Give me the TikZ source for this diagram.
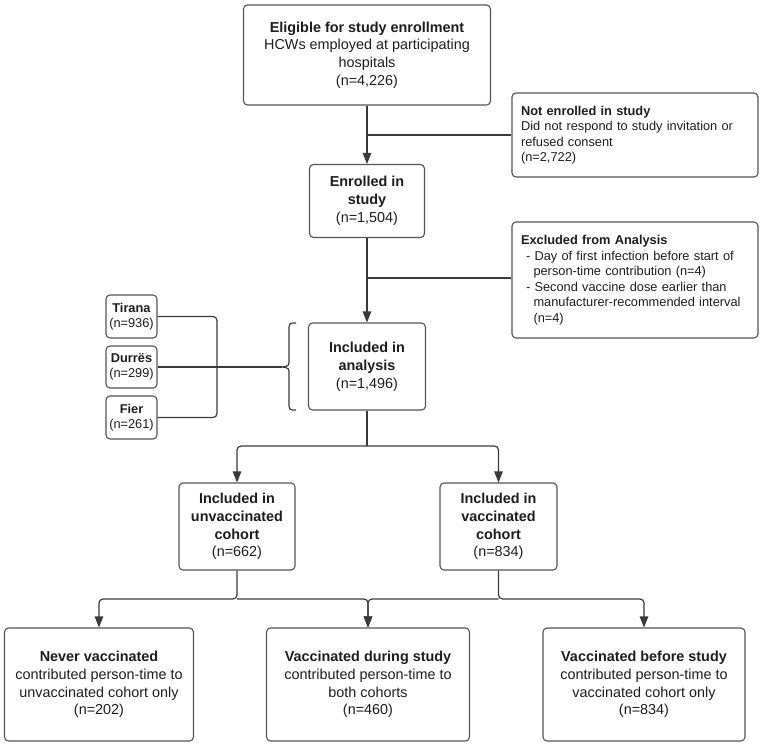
\documentclass[tikz,border=0pt]{standalone}
\usepackage{fontspec}
\setmainfont{Liberation Sans}
\usetikzlibrary{arrows.meta}
\definecolor{boxc}{HTML}{555555}
\definecolor{linec}{HTML}{3A3A3A}
\definecolor{txtc}{HTML}{1E1E1E}
\begin{document}
\begin{tikzpicture}[x=1pt,y=-1pt,
 box/.style={draw=boxc, line width=1.1pt, rounded corners=4pt, fill=white, text=txtc, inner sep=0pt, align=center, font=\fontsize{14.4}{17.8}\selectfont},
 sbox/.style={box, font=\fontsize{12.8}{15.5}\selectfont},
 conn/.style={draw=linec, line width=1.2pt},
 arr/.style={conn, -{Triangle[length=11pt,width=8.5pt]}},
]
\useasboundingbox (0,0) rectangle (762,747);

\node[box, minimum width=247pt, minimum height=100pt] (elig) at (367,55)
 {\textbf{Eligible for study enrollment}\\HCWs employed at participating\\hospitals\\(n=4,226)};
\node[sbox, align=left, text width=228pt, minimum width=246pt, minimum height=84pt] (notenr) at (635,135)
 {\textbf{Not enrolled in study}\\Did not respond to study invitation or\\refused consent\\(n=2,722)};
\node[box, minimum width=115pt, minimum height=73pt] (enr) at (367,201)
 {\textbf{Enrolled in}\\\textbf{study}\\(n=1,504)};
\node[sbox, align=left, text width=228pt, minimum width=246pt, minimum height=116pt] (excl) at (635,280)
 {\textbf{Excluded from Analysis}\\
 \hspace*{5pt}-\ Day of first infection before start of\\
 \hspace*{12.5pt}person-time contribution (n=4)\\
 \hspace*{5pt}-\ Second vaccine dose earlier than\\
 \hspace*{12.5pt}manufacturer-recommended interval\\
 \hspace*{12.5pt}(n=4)};
\node[box, minimum width=117pt, minimum height=87pt] (incl) at (367,366.5)
 {\textbf{Included in}\\\textbf{analysis}\\(n=1,496)};

\node[sbox, minimum width=51pt, minimum height=43pt] (tir) at (131.5,316.5) {\textbf{Tirana}\\(n=936)};
\node[sbox, minimum width=51pt, minimum height=42pt] (dur) at (131.5,367) {\textbf{Durrës}\\(n=299)};
\node[sbox, minimum width=51pt, minimum height=43pt] (fier) at (131.5,417.5) {\textbf{Fier}\\(n=261)};

\node[box, minimum width=116pt, minimum height=87pt] (unvac) at (237,526.5)
 {\textbf{Included in}\\\textbf{unvaccinated}\\\textbf{cohort}\\(n=662)};
\node[box, minimum width=117pt, minimum height=87pt] (vac) at (498.5,526.5)
 {\textbf{Included in}\\\textbf{vaccinated}\\\textbf{cohort}\\(n=834)};

\node[box, minimum width=189pt, minimum height=113pt] (never) at (99,684.5)
 {\textbf{Never vaccinated}\\contributed person-time to\\unvaccinated cohort only\\(n=202)};
\node[box, minimum width=203pt, minimum height=113pt] (during) at (368,684.5)
 {\textbf{Vaccinated during study}\\contributed person-time to\\both cohorts\\(n=460)};
\node[box, minimum width=202pt, minimum height=113pt] (before) at (644,684.5)
 {\textbf{Vaccinated before study}\\contributed person-time to\\vaccinated cohort only\\(n=834)};

% connectors
\coordinate (b1) at (367,135);
\draw[arr] (elig.south) -- (enr.north);
\draw[conn] (b1) -- (b1 -| notenr.west);

\coordinate (b2) at (367,278);
\draw[arr] (enr.south) -- (incl.north);
\draw[conn] (b2) -- (b2 -| excl.west);

\coordinate (jn) at (217,367);
\coordinate (btip) at (282,367);
\draw[conn, rounded corners=4pt] (tir.east) -| (jn) |- (fier.east);
\draw[conn] (dur.east) -- (btip);
\draw[conn] (296,323) .. controls (289,323) .. (289,331) -- (289,359)
  .. controls (289,366) .. (282,367) .. controls (289,368) .. (289,375)
  -- (289,402) .. controls (289,410) .. (296,410);

\coordinate (s1) at (367,446);
\draw[conn] (incl.south) -- (s1);
\draw[arr, rounded corners=4pt] (s1) -| (unvac.north);
\draw[arr, rounded corners=4pt] (s1) -| (vac.north);

\coordinate (s2) at (368,599);
\draw[arr, rounded corners=4pt] (unvac.south) -- (unvac.south |- s2) -| (never.north);
\draw[arr, rounded corners=4pt] (unvac.south |- s2) -| (during.north);
\draw[arr, rounded corners=4pt] (vac.south) -- (vac.south |- s2) -| (before.north);
\draw[arr, rounded corners=4pt] (vac.south |- s2) -| (during.north);
\end{tikzpicture}
\end{document}
